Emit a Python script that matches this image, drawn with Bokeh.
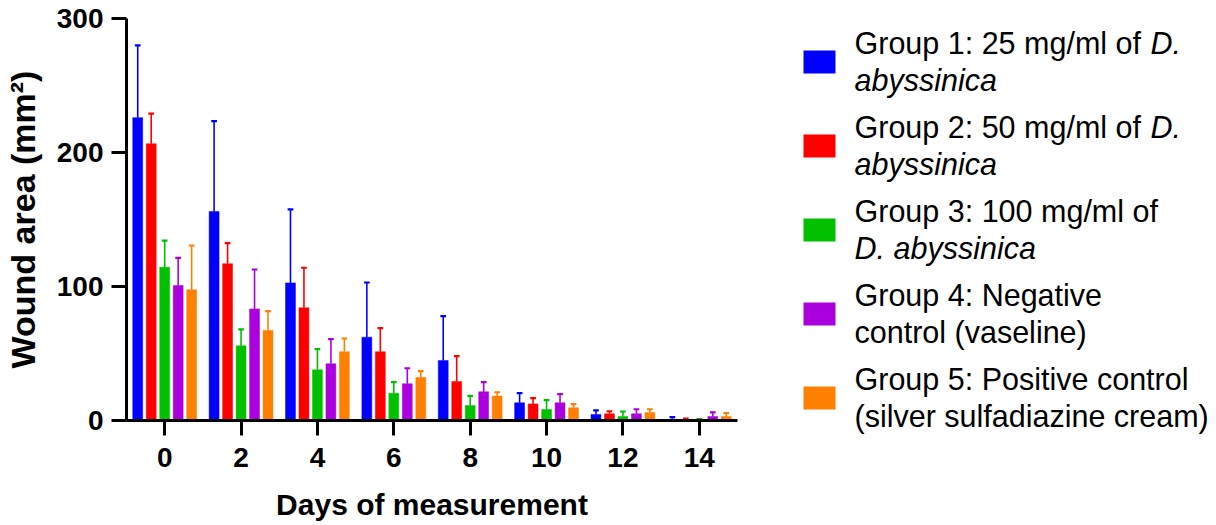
from bokeh.plotting import figure
from bokeh.layouts import row
from bokeh.models import Range1d, FixedTicker, ColumnDataSource
from bokeh.embed import file_html
from bokeh.resources import INLINE
from bokeh.core.properties import value

# ---- data ----
days = [0, 2, 4, 6, 8, 10, 12, 14]
tick_labels = ["0", "2", "4", "6", "8", "10", "12", "14"]
group_names = ["Group 1", "Group 2", "Group 3", "Group 4", "Group 5"]
colors = ["#0000FF", "#FF0000", "#00C000", "#AA00DD", "#FF8000"]

g1_mean = [226.0, 156.0, 102.7, 62.2, 44.8, 13.2, 4.5, 0.8]
g1_sd = [54.0, 67.4, 54.8, 40.8, 33.1, 7.2, 3.0, 1.7]
g2_mean = [206.5, 117.0, 84.1, 51.3, 29.1, 12.4, 5.0, 0.8]
g2_sd = [22.5, 15.3, 29.9, 17.6, 18.9, 4.3, 1.9, 0.7]
g3_mean = [114.4, 55.7, 37.8, 20.4, 11.2, 8.2, 3.0, 0.5]
g3_sd = [19.9, 12.3, 15.4, 8.2, 7.2, 7.0, 3.7, 0.5]
g4_mean = [100.7, 83.3, 42.3, 27.4, 21.4, 13.2, 5.0, 3.0]
g4_sd = [20.7, 29.4, 18.4, 11.6, 7.2, 6.5, 3.4, 3.0]
g5_mean = [97.5, 67.2, 51.3, 32.1, 18.2, 9.5, 6.0, 3.0]
g5_sd = [33.1, 14.4, 9.9, 4.7, 2.9, 2.7, 2.4, 2.5]

means = [g1_mean, g2_mean, g3_mean, g4_mean, g5_mean]
sds = [g1_sd, g2_sd, g3_sd, g4_sd, g5_sd]

# legend text: list of (text, style) runs per line
legend_lines = [
    [[("Group 1: 25 mg/ml of ", "normal"), ("D.", "italic")], [("abyssinica", "italic")]],
    [[("Group 2: 50 mg/ml of ", "normal"), ("D.", "italic")], [("abyssinica", "italic")]],
    [[("Group 3: 100 mg/ml of", "normal")], [("D. abyssinica", "italic")]],
    [[("Group 4: Negative", "normal")], [("control (vaseline)", "normal")]],
    [[("Group 5: Positive control", "normal")], [("(silver sulfadiazine cream)", "normal")]],
]

FONT = "Liberation Sans"

# ---- main chart ----
p = figure(width=760, height=525, x_range=Range1d(-1, 15), y_range=Range1d(0, 300),
           output_backend="svg", toolbar_location=None,
           min_border_left=126, min_border_right=23, min_border_top=18, min_border_bottom=105)
p.outline_line_color = None
p.xgrid.visible = False
p.ygrid.visible = False
p.background_fill_color = "white"

step = 0.353
bar_w = 0.26
cap_w = 0.15
for gi in range(5):
    off = (gi - 2) * step
    xs = [d + off for d in days]
    tops = [m + s for m, s in zip(means[gi], sds[gi])]
    src = ColumnDataSource(dict(x=xs, m=means[gi], hi=tops,
                                cl=[x - cap_w / 2 for x in xs], cr=[x + cap_w / 2 for x in xs]))
    p.segment(x0="x", y0="m", x1="x", y1="hi", source=src, line_color=colors[gi], line_width=1.6)
    p.segment(x0="cl", y0="hi", x1="cr", y1="hi", source=src, line_color=colors[gi], line_width=2.2)
    p.vbar(x="x", top="m", bottom=0, width=bar_w, source=src, fill_color=colors[gi],
           line_color=colors[gi], line_width=0.5)

for ax in (p.xaxis[0], p.yaxis[0]):
    ax.axis_line_width = 3
    ax.axis_line_color = "black"
    ax.major_tick_line_width = 3
    ax.major_tick_line_color = "black"
    ax.major_tick_out = 15
    ax.major_tick_in = 0
    ax.minor_tick_line_color = None
    ax.major_label_text_font = FONT
    ax.major_label_text_font_style = "bold"
    ax.major_label_text_font_size = "28px"
    ax.major_label_text_color = "black"
    ax.axis_label_text_font = FONT
    ax.axis_label_text_font_style = "bold"
    ax.axis_label_text_color = "black"

p.xaxis.ticker = FixedTicker(ticks=days)
p.xaxis.major_label_overrides = {d: t for d, t in zip(days, tick_labels)}
p.yaxis.ticker = FixedTicker(ticks=[0, 100, 200, 300])
p.xaxis.axis_label = "Days of measurement"
p.xaxis.axis_label_text_font_size = "30px"
p.xaxis.major_label_standoff = 12
p.xaxis.axis_label_standoff = 18
p.yaxis.axis_label = "Wound area (mm²)"
p.yaxis.axis_label_text_font_size = "34px"
p.yaxis.major_label_standoff = 8
p.yaxis.axis_label_standoff = 12

# ---- legend panel ----
lg = figure(width=456, height=525, x_range=Range1d(0, 456), y_range=Range1d(525, 0),
            output_backend="svg", toolbar_location=None, min_border=0)
lg.axis.visible = False
lg.xgrid.visible = False
lg.ygrid.visible = False
lg.outline_line_color = None
for fig in (p, lg):
    if "frame_align" in fig.properties():
        fig.frame_align = False

entry_gap = 84
sq_left, sq_right = 43, 75
sq_center0 = 61.5
sq_h = 23
lg.quad(left=[sq_left] * 5, right=[sq_right] * 5,
        top=[sq_center0 + i * entry_gap - sq_h / 2 for i in range(5)],
        bottom=[sq_center0 + i * entry_gap + sq_h / 2 for i in range(5)],
        fill_color=colors, line_color=None)

text_x = 94
italic_x = 390
base0 = 42
line_gap = 37
runs = {"normal": dict(x=[], y=[], t=[]), "italic": dict(x=[], y=[], t=[])}
for i, entry in enumerate(legend_lines):
    for li, line in enumerate(entry):
        y = base0 + i * entry_gap + li * line_gap
        for ri, (txt, style) in enumerate(line):
            x = text_x if ri == 0 else italic_x
            runs[style]["x"].append(x)
            runs[style]["y"].append(y)
            runs[style]["t"].append(txt)
for style, d in runs.items():
    lg.text(x="x", y="y", text="t", source=ColumnDataSource(d), text_font=value(FONT),
            text_font_size="30.5px", text_font_style=style, text_baseline="alphabetic",
            text_align="left", text_color="black")

layout = row(p, lg)
open("out.html", "w").write(file_html(layout, INLINE))
